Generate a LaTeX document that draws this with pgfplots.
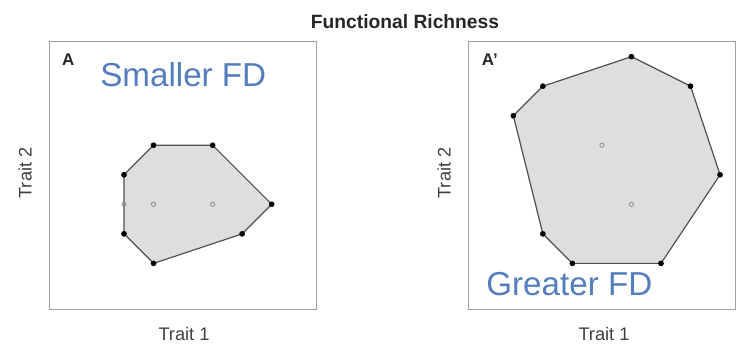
\documentclass[border=0pt]{standalone}
\usepackage{pgfplots}
\pgfplotsset{compat=1.18}
\usepackage{fontspec}
\setmainfont{Liberation Sans}
\definecolor{fdblue}{RGB}{84,125,190}
\definecolor{hullfill}{RGB}{222,222,222}
\definecolor{hulledge}{RGB}{80,80,80}
\definecolor{boxgray}{RGB}{160,160,160}
\definecolor{ringgray}{RGB}{140,140,140}
\begin{document}
\begin{tikzpicture}[x=1bp,y=1bp]
\useasboundingbox (0,0) rectangle (748,346);
\pgfplotsset{panel/.style={scale only axis, width=267.7bp, height=267.7bp,
  anchor=south west, xtick=\empty, ytick=\empty,
  axis line style={boxgray, line width=1bp}, clip=false}}
% Left panel
\begin{axis}[panel, at={(49bp,37bp)}, xmin=-2.54, xmax=6.525, ymin=-3.545, ymax=5.52]
\addplot[fill=hullfill, draw=hulledge, line width=1.2bp] coordinates {(1,2)(3,2)(5,0)(4,-1)(1,-2)(0,-1)(0,1)} -- cycle;
\addplot[only marks, mark=*, mark size=2.6bp, black] coordinates {(1,2)(3,2)(5,0)(4,-1)(1,-2)(0,-1)(0,1)};
\addplot[only marks, mark=o, mark size=2.1bp, ringgray, mark options={line width=0.8bp}] coordinates {(0,0)(1,0)(3,0)};
\end{axis}
% Right panel
\begin{axis}[panel, at={(468bp,37bp)}, xmin=-1.535, xmax=7.53, ymin=-3.545, ymax=5.52]
\addplot[fill=hullfill, draw=hulledge, line width=1.2bp] coordinates {(0,3)(1,4)(4,5)(6,4)(7,1)(5,-2)(2,-2)(1,-1)} -- cycle;
\addplot[only marks, mark=*, mark size=2.6bp, black] coordinates {(0,3)(1,4)(4,5)(6,4)(7,1)(5,-2)(2,-2)(1,-1)};
\addplot[only marks, mark=o, mark size=2.1bp, ringgray, mark options={line width=0.8bp}] coordinates {(3,2)(4,0)};
\end{axis}
% Texts
\node[anchor=base, font=\fontsize{19.3}{22}\selectfont\bfseries, text=black!85] at (405,317.7) {Functional Richness};
\node[anchor=base west, inner sep=0, font=\fontsize{17}{20}\selectfont\bfseries, text=black!85] at (62,281) {A};
\node[anchor=base west, inner sep=0, font=\fontsize{17}{20}\selectfont\bfseries, text=black!85] at (481.7,281) {A’};
\node[anchor=base, inner sep=0, font=\fontsize{33.3}{38}\selectfont, text=fdblue] at (183.3,259.3) {Smaller FD};
\node[anchor=base, inner sep=0, font=\fontsize{33.3}{38}\selectfont, text=fdblue] at (569.3,51) {Greater FD};
\node[anchor=base, inner sep=0, font=\fontsize{18.3}{21}\selectfont, text=black!75] at (184,5.3) {Trait 1};
\node[anchor=base, inner sep=0, font=\fontsize{18.3}{21}\selectfont, text=black!75] at (604,5.3) {Trait 1};
\node[anchor=base, rotate=90, inner sep=0, font=\fontsize{18.3}{21}\selectfont, text=black!75] at (31.7,173) {Trait 2};
\node[anchor=base, rotate=90, inner sep=0, font=\fontsize{18.3}{21}\selectfont, text=black!75] at (450.7,173) {Trait 2};
\end{tikzpicture}
\end{document}
